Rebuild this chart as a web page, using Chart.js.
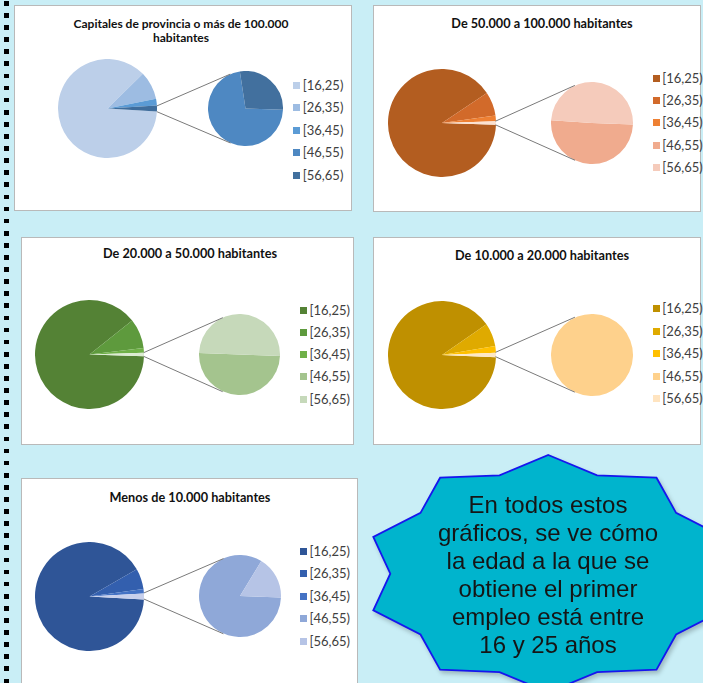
<!DOCTYPE html>
<html lang="es">
<head>
<meta charset="utf-8">
<title>Edad del primer empleo según tamaño del municipio</title>
<script src="https://cdn.jsdelivr.net/npm/chart.js@4.4.0/dist/chart.umd.min.js"></script>
<style>
  html, body { margin: 0; padding: 0; }
  #page {
    position: relative;
    width: 703px;
    height: 683px;
    overflow: hidden;
    background: #c9eef6;
    font-family: Lato, "Open Sans", sans-serif;
  }
  #page > * { position: absolute; }
  .dots {
    left: 4px; top: 0.5px; width: 5px; height: 683px;
    background: repeating-linear-gradient(to bottom, #000 0 4.6px, transparent 4.6px 12.1px);
  }
  .panel { background: #fff; border: 1px solid #b9b9b9; box-sizing: border-box; }
  .title {
    font-weight: bold; font-size: 12.7px; line-height: 14px; color: #111;
    text-align: center; white-space: pre-line; width: 300px;
  }
  .legend-box { width: 7px; height: 7px; }
  .legend-text { font-size: 13px; line-height: 14px; color: #404040; white-space: nowrap; }
  #lines { left: 0; top: 0; pointer-events: none; }
  #star { left: 0; top: 0; overflow: visible; filter: drop-shadow(2px 3px 2px rgba(0,0,0,0.22)); }
  .star-text {
    left: 398px; top: 491px; width: 300px; text-align: center;
    font-family: "Liberation Sans", Arial, sans-serif; font-size: 24px; line-height: 27.9px; color: #151515;
  }
</style>
</head>
<body>
<div id="page">
  <div class="dots"></div>
  <canvas id="lines" width="703" height="683"></canvas>
  <svg id="star" width="703" height="683"><polygon id="starShape" fill="#00b4cd" stroke="#1616ee" stroke-width="1.8" stroke-linejoin="miter"/></svg>
  <div class="star-text">En todos estos<br>gráficos, se ve cómo<br>la edad a la que se<br>obtiene el primer<br>empleo está entre<br>16 y 25 años</div>
</div>
<script>
// Age at first job (%), by size of municipality
const ageGroups = ["[16,25)", "[26,35)", "[36,45)", "[46,55)", "[56,65)"];
const capitales = [86.7, 9.2, 2.2, 1.34, 0.52];
const de50a100 = [90.1, 7.2, 1.67, 0.54, 0.53];
const de20a50 = [88.8, 8.75, 1.39, 0.54, 0.54];
const de10a20 = [89.75, 6.97, 2.0, 1.28, 0];
const menos10 = [90.8, 6.1, 1.3, 1.48, 0.3];
const chartTitles = [
  "Capitales de provincia o más de 100.000\nhabitantes",
  "De 50.000 a 100.000 habitantes",
  "De 20.000 a 50.000 habitantes",
  "De 10.000 a 20.000 habitantes",
  "Menos de 10.000 habitantes",
];
// groups from this index on go to the second pie
const splitAt = 3;

// Layout and colours of each panel
const panels = [
  {
    values: capitales, title: chartTitles[0], titleSize: 12,
    box: [14, 5, 338, 206], titleAt: [181, 16.5],
    main: [107.5, 108.8, 49.5], sec: [245.2, 108.5, 37.5],
    legend: [293.3, 85, 22.5],
    colors: ["#bccfe9", "#9dbce2", "#5b9bd5", "#4e88c2", "#42709e"], other: "#3f6d9c",
  },
  {
    values: de50a100, title: chartTitles[1], titleSize: 12.7,
    box: [373, 5, 328, 207], titleAt: [542, 16],
    main: [441.5, 123, 54], sec: [591.7, 122.8, 41],
    legend: [652.7, 78, 22.4],
    colors: ["#b35d20", "#d26a2a", "#ee8033", "#f0ab8e", "#f5cbbb"], other: "#fbe1d1",
  },
  {
    values: de20a50, title: chartTitles[2], titleSize: 12.7,
    box: [21, 237, 333, 208], titleAt: [190, 246],
    main: [89.2, 354.5, 54.3], sec: [239.2, 354.7, 40.3],
    legend: [300, 310, 22.3],
    colors: ["#548235", "#5e9a3d", "#6fb048", "#a4c48e", "#c6d9ba"], other: "#dcebd2",
  },
  {
    values: de10a20, title: chartTitles[3], titleSize: 12.7,
    box: [373, 237, 328, 208], titleAt: [542, 248],
    main: [441.5, 354.5, 54], sec: [591.5, 354.7, 40.8],
    legend: [652.7, 308.5, 22.5],
    colors: ["#bf9000", "#dfaa00", "#ffc000", "#fed18c", "#ffe4c0"], other: "#fde8c6",
  },
  {
    values: menos10, title: chartTitles[4], titleSize: 12.7,
    box: [21, 478, 337, 260], titleAt: [190, 490],
    main: [89.5, 596, 54.5], sec: [239.8, 596.2, 40.8],
    legend: [300, 551, 22.5],
    colors: ["#2f5597", "#335fae", "#4472c4", "#8fa8d8", "#b6c4e6"], other: "#c8d0ec",
  },
];

const page = document.getElementById("page");

function addEl(tag, cls, styles, text) {
  const el = document.createElement(tag);
  if (cls) el.className = cls;
  Object.assign(el.style, styles);
  if (text !== undefined) el.textContent = text;
  page.insertBefore(el, document.getElementById("lines"));
  return el;
}

// Pie chart drawn in its own square canvas centred on (cx, cy)
function pieChart(cx, cy, r, labels, data, colors, rotation) {
  const size = Math.round(r * 2);
  const left = cx - size / 2;
  const top = cy - size / 2;
  const canvas = addEl("canvas", "pie", { left: left + "px", top: top + "px" });
  canvas.width = size;
  canvas.height = size;
  const chart = new Chart(canvas, {
    type: "pie",
    data: {
      labels: labels,
      datasets: [{ data: data, backgroundColor: colors, borderWidth: 0 }],
    },
    options: {
      responsive: false,
      animation: false,
      events: [],
      rotation: rotation,
      layout: { padding: 0 },
      plugins: { legend: { display: false }, tooltip: { enabled: false } },
    },
  });
  chart.left = left;
  chart.top = top;
  return chart;
}

const sum = (arr) => arr.reduce((a, b) => a + b, 0);
const ctx = document.getElementById("lines").getContext("2d");

panels.forEach((p) => {
  // frame and title
  addEl("div", "panel", {
    left: p.box[0] + "px", top: p.box[1] + "px", width: p.box[2] + "px", height: p.box[3] + "px",
  });
  addEl("div", "title", {
    left: p.titleAt[0] - 150 + "px", top: p.titleAt[1] + "px", fontSize: p.titleSize + "px",
  }, p.title);

  // main pie: first groups plus one slice for the rest
  const rest = p.values.slice(splitAt);
  const mainData = p.values.slice(0, splitAt).concat([sum(rest)]);
  const otherDeg = (sum(rest) / sum(p.values)) * 360;
  const mainChart = pieChart(
    p.main[0], p.main[1], p.main[2],
    ageGroups.slice(0, splitAt).concat(["Otros"]), mainData,
    p.colors.slice(0, splitAt).concat([p.other]),
    90 + otherDeg / 2
  );

  // secondary pie with the remaining groups
  const secChart = pieChart(
    p.sec[0], p.sec[1], p.sec[2],
    ageGroups.slice(splitAt), rest, p.colors.slice(splitAt), 92
  );

  // connector lines from the "other" slice to the tangents of the second pie
  const arc = mainChart.getDatasetMeta(0).data[splitAt].getProps(["x", "y", "startAngle", "endAngle", "outerRadius"], true);
  const sArc = secChart.getDatasetMeta(0).data[0].getProps(["x", "y", "outerRadius"], true);
  const mx = mainChart.left + arc.x, my = mainChart.top + arc.y, R = arc.outerRadius;
  const sx = secChart.left + sArc.x, sy = secChart.top + sArc.y, sr = sArc.outerRadius;
  const tangent = (pt, sign) => {
    const dx = pt[0] - sx, dy = pt[1] - sy;
    const a = Math.atan2(dy, dx) + sign * Math.acos(sr / Math.hypot(dx, dy));
    return [sx + sr * Math.cos(a), sy + sr * Math.sin(a)];
  };
  const upper = [mx + R * Math.cos(arc.startAngle), my + R * Math.sin(arc.startAngle)];
  const lower = [mx + R * Math.cos(arc.endAngle), my + R * Math.sin(arc.endAngle)];
  ctx.strokeStyle = "#7a7a7a";
  ctx.lineWidth = 1;
  [[upper, tangent(upper, 1)], [lower, tangent(lower, -1)]].forEach(([a, b]) => {
    ctx.beginPath();
    ctx.moveTo(a[0], a[1]);
    ctx.lineTo(b[0], b[1]);
    ctx.stroke();
  });

  // legend
  ageGroups.forEach((label, i) => {
    const y = p.legend[1] + i * p.legend[2];
    addEl("div", "legend-box", {
      left: p.legend[0] + "px", top: y - 3.5 + "px", background: p.colors[i],
    });
    addEl("div", "legend-text", { left: p.legend[0] + 9.5 + "px", top: y - 7.5 + "px" }, label);
  });
});

// ten-pointed star behind the note
const star = { cx: 548.3, cy: 573.7, outer: [184, 118.7], inner: [158, 103.5], points: 10 };
const pts = [];
for (let k = 0; k < star.points * 2; k++) {
  const t = (k * Math.PI) / star.points;
  const rr = k % 2 === 0 ? star.outer : star.inner;
  pts.push((star.cx + rr[0] * Math.sin(t)).toFixed(1) + "," + (star.cy - rr[1] * Math.cos(t)).toFixed(1));
}
document.getElementById("starShape").setAttribute("points", pts.join(" "));
</script>
</body>
</html>
